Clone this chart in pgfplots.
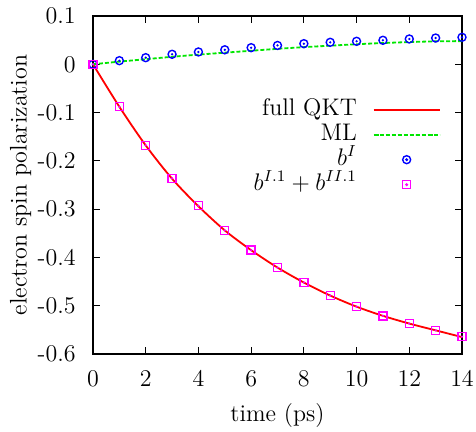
\documentclass[12pt,border=0pt]{standalone}
\usepackage{pgfplots}
\pgfplotsset{compat=1.18}

\definecolor{qktred}{RGB}{255,0,0}
\definecolor{mlgreen}{RGB}{0,230,0}
\definecolor{bblue}{RGB}{0,0,255}
\definecolor{bmag}{RGB}{255,0,255}

\begin{document}
\begin{tikzpicture}
\begin{axis}[
  scale only axis,
  width=184.5pt, height=169pt,
  xmin=0, xmax=14, ymin=-0.6, ymax=0.1,
  xtick={0,2,...,14},
  ytick={-0.6,-0.5,-0.4,-0.3,-0.2,-0.1,0,0.1},
  yticklabels={-0.6,-0.5,-0.4,-0.3,-0.2,-0.1,0,0.1},
  tick align=inside,
  major tick length=3.5pt,
  axis line style={line width=0.8pt},
  every tick/.style={black, line width=0.6pt},
  yticklabel style={xshift=-4.5pt},
  xticklabel style={yshift=-4.5pt},
  xlabel={time (ps)},
  ylabel={electron spin polarization},
  ylabel style={yshift=-5pt},
  legend plot pos=right,
  legend cell align=right,
  legend image code/.code={\draw[mark repeat=2,mark phase=2] plot coordinates {(0pt,0pt) (16.5pt,0pt) (33pt,0pt)};},
  legend style={at={(rel axis cs:0.943,0.761)}, anchor=north east, draw=none, fill=none,
    inner sep=0pt, row sep=0pt, column sep=8pt,
    nodes={inner sep=0pt, text height=9pt, text depth=3.5pt}},
]
\addplot[qktred, line width=0.9pt, smooth] coordinates {
  (0,0) (1,-0.088) (2,-0.168) (3,-0.237) (4,-0.294) (5,-0.344) (6,-0.385)
  (7,-0.421) (8,-0.452) (9,-0.479) (10,-0.502) (11,-0.521) (12,-0.537)
  (13,-0.551) (14,-0.565)};
\addlegendentry{full QKT}
\addplot[mlgreen, line width=0.9pt, dash pattern=on 2pt off 1pt, smooth] coordinates {
  (0,0) (1,0.0055) (2,0.0105) (3,0.0155) (4,0.0200) (5,0.0240) (6,0.0280)
  (7,0.0320) (8,0.0355) (9,0.0385) (10,0.0415) (11,0.0440) (12,0.0460)
  (13,0.0475) (14,0.0480)};
\addlegendentry{ML}
\addplot[bblue, only marks, mark=o, mark size=2pt, line width=0.7pt,
  legend image code/.code={\draw[mark=o] plot coordinates {(16.5pt,0pt)};
    \fill (16.5pt,0pt) circle (0.35pt);}] coordinates {
  (0,0) (1,0.0075) (2,0.0137) (3,0.0207) (4,0.0255) (5,0.0300) (6,0.0344)
  (7,0.0390) (8,0.0427) (9,0.0455) (10,0.0476) (11,0.0497) (12,0.0524)
  (13,0.0544) (14,0.0559)};
\addlegendentry{$b^{I}$}
\addplot[bmag, only marks, mark=square, mark size=2pt, line width=0.7pt,
  legend image code/.code={\draw[mark=square] plot coordinates {(16.5pt,0pt)};
    \fill (16.5pt,0pt) circle (0.35pt);}] coordinates {
  (0,0) (1,-0.088) (2,-0.168) (3,-0.236) (4,-0.293) (5,-0.344) (6,-0.385)
  (7,-0.421) (8,-0.452) (9,-0.479) (10,-0.502) (11,-0.521) (12,-0.537)
  (13,-0.551) (14,-0.564)};
\addlegendentry{$b^{I.1}+b^{II.1}$}
% centre dots of the open marks
\addplot[bblue, only marks, mark=*, mark size=0.35pt, forget plot] coordinates {
  (0,0) (1,0.0075) (2,0.0137) (3,0.0207) (4,0.0255) (5,0.0300) (6,0.0344)
  (7,0.0390) (8,0.0427) (9,0.0455) (10,0.0476) (11,0.0497) (12,0.0524)
  (13,0.0544) (14,0.0559)};
\addplot[bmag, only marks, mark=*, mark size=0.35pt, forget plot] coordinates {
  (0,0) (1,-0.088) (2,-0.168) (3,-0.236) (4,-0.293) (5,-0.344) (6,-0.385)
  (7,-0.421) (8,-0.452) (9,-0.479) (10,-0.502) (11,-0.521) (12,-0.537)
  (13,-0.551) (14,-0.564)};
\end{axis}
\pgfresetboundingbox
\path[use as bounding box] (current axis.south west) ++(-46.5pt,-39pt)
  rectangle ([shift={(7pt,8pt)}]current axis.north east);
\end{tikzpicture}
\end{document}
